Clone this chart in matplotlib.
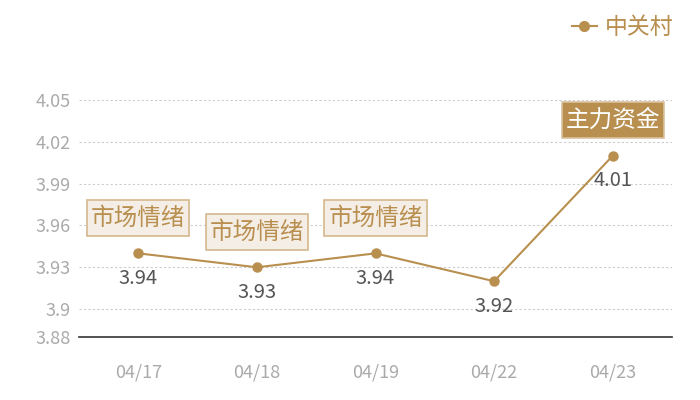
import matplotlib
matplotlib.use("Agg")
import matplotlib.pyplot as plt
from matplotlib.lines import Line2D
from matplotlib.path import Path

plt.rcParams['font.family'] = ['Noto Sans CJK SC', 'DejaVu Sans']

dates = ["04/17", "04/18", "04/19", "04/22", "04/23"]
values = [3.94, 3.93, 3.94, 3.92, 4.01]
series_name = "中关村"
yticks = [3.88, 3.9, 3.93, 3.96, 3.99, 4.02, 4.05]
ytick_labels = ["3.88", "3.9", "3.93", "3.96", "3.99", "4.02", "4.05"]
tags = ["市场情绪", "市场情绪", "市场情绪", None, "主力资金"]
tag_styles = ["light", "light", "light", None, "dark"]

gold = "#B98F4F"


def tag_box(x0, y0, width, height, mutation_size):
    px = 0.16 * mutation_size
    py = 0.28 * mutation_size
    x0, x1 = x0 - px, x0 + width + px
    y0, y1 = y0 - py, y0 + height + py
    return Path([(x0, y0), (x1, y0), (x1, y1), (x0, y1), (x0, y0)], closed=True)


fig = plt.figure(figsize=(7, 4), dpi=100)
ax = fig.add_axes([79/700, 63/400, (672-79)/700, (337-100)/400])

x = list(range(len(dates)))
ax.plot(x, values, color=gold, linewidth=1.5, marker='o', markersize=6.5,
        markerfacecolor=gold, markeredgecolor=gold, zorder=3)

ax.set_xlim(-0.5, len(dates) - 0.5)
ax.set_ylim(yticks[0], yticks[-1])
ax.set_yticks(yticks)
ax.set_yticklabels(ytick_labels)
ax.set_xticks(x)
ax.set_xticklabels(dates)
ax.tick_params(axis='both', length=0, labelcolor="#aaaaaa", labelsize=13)
ax.tick_params(axis='x', pad=19)
ax.tick_params(axis='y', pad=6)

for yv in yticks[1:]:
    ax.axhline(yv, color="#cccccc", linewidth=0.8, linestyle=(0, (2, 2)), zorder=1)

for s in ["top", "right", "left"]:
    ax.spines[s].set_visible(False)
ax.spines["bottom"].set_color("#333333")
ax.spines["bottom"].set_linewidth(1.2)

for xi, v in zip(x, values):
    ax.annotate(f"{v:g}", (xi, v), xytext=(0, -18), textcoords='offset points',
                ha='center', va='center', color="#555555", fontsize=14.5, zorder=4)

for xi, v, t, st in zip(x, values, tags, tag_styles):
    if t is None:
        continue
    if st == "light":
        bbox = dict(boxstyle=tag_box, facecolor="#F4EEE6", edgecolor="#D4B88E", linewidth=1.2)
        tc = gold
    else:
        bbox = dict(boxstyle=tag_box, facecolor=gold, edgecolor="#D9C29E", linewidth=1.2)
        tc = "white"
    ax.annotate(t, (xi, v), xytext=(0, 25.5), textcoords='offset points',
                ha='center', va='center', color=tc, fontsize=17, bbox=bbox, zorder=5)

handle = Line2D([0], [0], color=gold, linewidth=1.5, marker='o', markersize=7,
                markerfacecolor=gold, markeredgecolor=gold)
leg = fig.legend([handle], [series_name], loc='upper right', bbox_to_anchor=(0.985, 1.0),
                 frameon=False, fontsize=16.5, handlelength=1.1, handletextpad=0.35, borderpad=0.2)
for txt in leg.get_texts():
    txt.set_color(gold)

fig.savefig("out.png", dpi=100, facecolor="white")
